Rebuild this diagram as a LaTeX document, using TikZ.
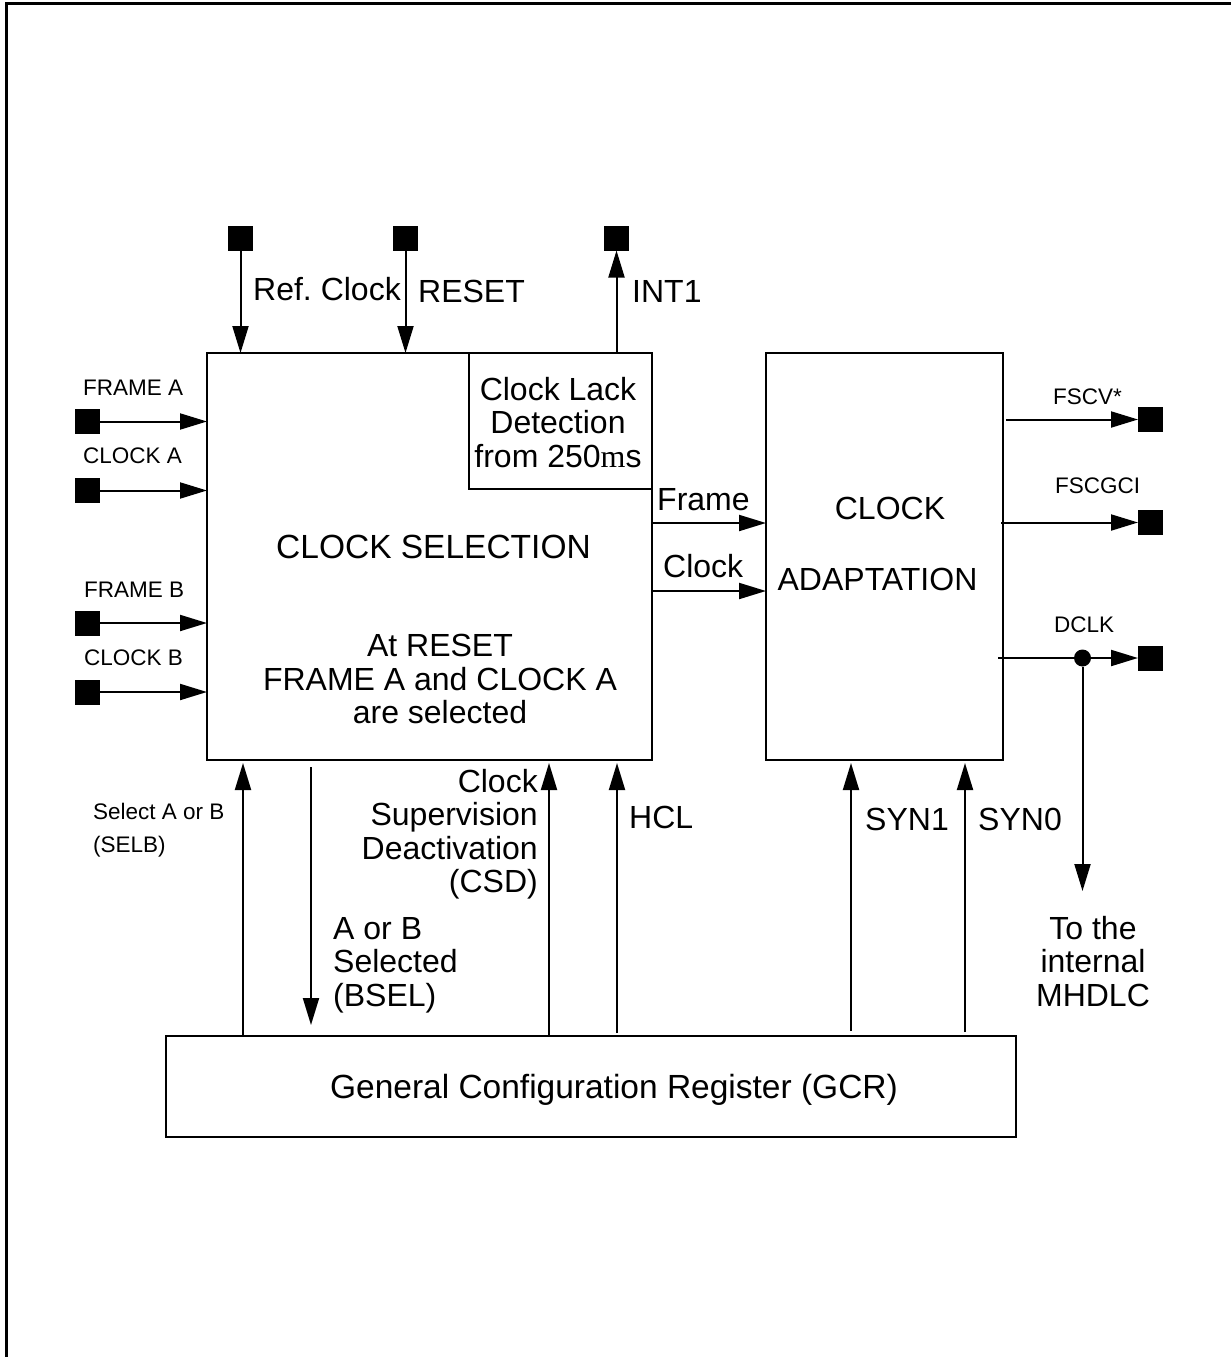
\documentclass[tikz,border=0pt]{standalone}
\usepackage{fontspec}
\setmainfont{Liberation Sans}
\newfontfamily\serifm{Liberation Serif}
\usetikzlibrary{arrows.meta}
\tikzset{
  box/.style={draw, line width=2.8pt, inner sep=0pt, outer sep=0pt, anchor=north west},
  pad/.style={fill=black, minimum size=25pt, inner sep=0pt, outer sep=0pt},
  arr/.style={line width=2pt, -{Triangle[length=27pt,width=16pt]}},
  ln/.style={line width=2pt},
  bigt/.style={font=\fontsize{32}{33.5}\selectfont, inner sep=0pt},
  hugt/.style={font=\fontsize{33.5}{35}\selectfont, inner sep=0pt},
  smallt/.style={font=\fontsize{22.5}{33}\selectfont, inner sep=0pt},
}
\begin{document}
\begin{tikzpicture}[x=1pt,y=-1pt]
\useasboundingbox (0,0) rectangle (1231,1357);
% outer frame
\draw[line width=3pt] (1235,3.5) -- (6.5,3.5) -- (6.5,1360);

% boxes
\node[box, minimum width=445pt, minimum height=407pt] (sel) at (207,353) {};
\node[box, minimum width=183pt, minimum height=136pt] (lack) at (469,353) {};
\node[box, minimum width=237pt, minimum height=407pt] (adapt) at (766,353) {};
\node[box, minimum width=850pt, minimum height=101pt] (gcr) at (166,1036) {};

% pads
\node[pad] (pref) at (240.5,238) {};
\node[pad] (preset) at (405.5,238) {};
\node[pad] (pint) at (616.5,238) {};
\node[pad] (pfa) at (87.5,421.5) {};
\node[pad] (pca) at (87.5,490.5) {};
\node[pad] (pfb) at (87.5,623) {};
\node[pad] (pcb) at (87.5,692) {};
\node[pad] (pfscv) at (1150.5,419.5) {};
\node[pad] (pfscgci) at (1150.5,522.5) {};
\node[pad] (pdclk) at (1150.5,658) {};
\node[circle, fill=black, minimum size=17pt, inner sep=0pt] (dot) at (1082.5,658) {};

% helper coordinates
\coordinate (yFrame) at (0,523);
\coordinate (yClock) at (0,591);
\coordinate (xSELB) at (243,0);
\coordinate (xBSEL) at (311,0);
\coordinate (xCSD) at (549,0);
\coordinate (xHCL) at (617,0);
\coordinate (xSYN1) at (851,0);
\coordinate (xSYN0) at (965,0);
\coordinate (mh) at (1082.5,891);

% top connectors
\draw[arr] (pref.south) -- (pref.south |- sel.north);
\draw[arr] (preset.south) -- (preset.south |- sel.north);
\draw[arr] (lack.north -| pint) -- (pint.south);

% left inputs
\draw[arr] (pfa.east) -- (pfa.east -| sel.west);
\draw[arr] (pca.east) -- (pca.east -| sel.west);
\draw[arr] (pfb.east) -- (pfb.east -| sel.west);
\draw[arr] (pcb.east) -- (pcb.east -| sel.west);

% selection -> adaptation
\draw[arr] (yFrame -| sel.east) -- (yFrame -| adapt.west);
\draw[arr] (yClock -| sel.east) -- (yClock -| adapt.west);

% outputs
\draw[arr, shorten <=3pt] (adapt.east |- pfscv) -- (pfscv.west);
\draw[arr, shorten <=-2pt] (adapt.east |- pfscgci) -- (pfscgci.west);
\draw[ln, shorten <=-5pt] (adapt.east |- dot) -- (dot);
\draw[arr] (dot) -- (pdclk.west);
\draw[arr] (dot) -- (mh);

% bottom connectors
\draw[arr, shorten >=3pt] (gcr.north -| xSELB) -- (sel.south -| xSELB);
\draw[arr, shorten <=7pt, shorten >=11pt] (sel.south -| xBSEL) -- (gcr.north -| xBSEL);
\draw[arr, shorten >=3pt] (gcr.north -| xCSD) -- (sel.south -| xCSD);
\draw[arr, shorten >=3pt, shorten <=3pt] (gcr.north -| xHCL) -- (sel.south -| xHCL);
\draw[arr, shorten >=3pt, shorten <=5pt] (gcr.north -| xSYN1) -- (adapt.south -| xSYN1);
\draw[arr, shorten >=3pt, shorten <=4pt] (gcr.north -| xSYN0) -- (adapt.south -| xSYN0);

% texts
\node[bigt, anchor=base west] (tref) at (253,300) {Ref.\ Clock};
\node[bigt, anchor=base west] (treset) at (418,302) {RESET};
\node[bigt, anchor=base west] (tint) at (632,302) {INT1};
\node[bigt, anchor=north, align=center] (tlack) at (558,377) {Clock Lack\\Detection\\from 250{\serifm m}s};
\node[hugt, anchor=base] (tsel) at (433.5,558) {CLOCK SELECTION};
\node[bigt, anchor=north, align=center] (treset2) at (440,634) {At RESET\\FRAME A and CLOCK A\\are selected};
\node[bigt, anchor=base west] (tframe) at (657,510) {Frame};
\node[bigt, anchor=base west] (tclock) at (663,577) {Clock};
\node[bigt, anchor=base] (tclk) at (890,519) {CLOCK};
\node[bigt, anchor=base] (tadapt) at (877.5,590) {ADAPTATION};

\node[smallt, anchor=base west] (tfa) at (83,395) {FRAME A};
\node[smallt, anchor=base west] (tca) at (83,463) {CLOCK A};
\node[smallt, anchor=base west] (tfb) at (84,597) {FRAME B};
\node[smallt, anchor=base west] (tcb) at (84,665) {CLOCK B};
\node[smallt, anchor=base west] (tfscv) at (1053,404) {FSCV*};
\node[smallt, anchor=base west] (tfscgci) at (1055,493) {FSCGCI};
\node[smallt, anchor=base west] (tdclk) at (1054,632) {DCLK};
\node[smallt, anchor=north west, align=left] (tselb) at (93,803) {Select A or B\\(SELB)};

\node[bigt, anchor=north east, align=right] (tcsd) at (538,769) {Clock\\Supervision\\Deactivation\\(CSD)};
\node[bigt, anchor=north west, align=left] (tbsel) at (333,917) {A or B\\Selected\\(BSEL)};
\node[bigt, anchor=base west] (thcl) at (629,828) {HCL};
\node[bigt, anchor=base west] (tsyn1) at (865,830) {SYN1};
\node[bigt, anchor=base west] (tsyn0) at (978,830) {SYN0};
\node[bigt, anchor=north, align=center] (tmh) at (1093,916) {To the\\internal\\MHDLC};
\node[hugt, anchor=base] (tgcr) at (614,1098) {General Configuration Register (GCR)};
\end{tikzpicture}
\end{document}
